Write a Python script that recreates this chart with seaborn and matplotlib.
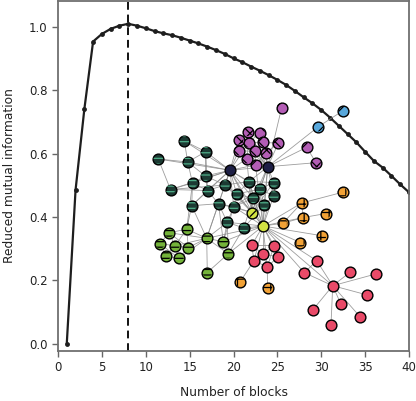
import matplotlib
matplotlib.use("Agg")
import matplotlib.pyplot as plt
import numpy as np
import pandas as pd
import seaborn as sns
from matplotlib.collections import LineCollection

sns.set_theme(style="white")
plt.rcParams["font.family"] = ["DejaVu Sans"]
plt.rcParams["hatch.linewidth"] = 0.9

# model selection curve
n_blocks = list(range(1, 41))
rmi = [0.0, 0.485, 0.74, 0.954, 0.978, 0.994, 1.004, 1.01, 1.004, 0.996,
       0.987, 0.980, 0.974, 0.966, 0.957, 0.948, 0.938, 0.927, 0.915, 0.901,
       0.889, 0.875, 0.862, 0.848, 0.833, 0.817, 0.798, 0.778, 0.759, 0.738,
       0.714, 0.688, 0.662, 0.636, 0.606, 0.577, 0.556, 0.530, 0.503, 0.478]
best_k = 8

# inset network layout (positions, layout units)
purple_xy = [(281.7, 107.5), (248.3, 131.5), (260.0, 132.5), (238.7, 140.0),
             (248.7, 142.7), (263.3, 142.3), (278.3, 143.3), (238.7, 150.8),
             (255.0, 151.3), (266.0, 152.7), (246.7, 158.7), (255.5, 165.0),
             (306.7, 147.3), (316.0, 162.7)]
navy_xy = [(230.0, 170.3), (267.7, 166.7)]
blue_xy = [(318.3, 126.7), (343.3, 110.5)]
teal_xy = [(184.3, 141.0), (205.7, 151.7), (158.3, 159.0), (187.7, 162.0),
           (205.5, 176.0), (192.5, 183.0), (170.5, 189.5), (207.5, 190.5),
           (225.0, 185.0), (249.2, 181.5), (273.7, 182.5), (236.7, 194.0),
           (260.0, 189.0), (191.7, 205.7), (218.5, 203.7), (233.7, 206.7),
           (253.3, 198.3), (273.7, 196.0), (264.2, 204.7), (227.3, 222.3),
           (243.7, 228.0)]
yellow_xy = [(252.0, 212.5), (263.0, 226.0)]
green_xy = [(186.7, 229.2), (169.0, 232.7), (160.0, 243.7), (175.0, 245.7),
            (188.3, 247.5), (165.7, 256.0), (179.0, 258.3), (206.7, 238.3),
            (223.3, 241.7), (228.3, 253.7), (207.3, 272.5)]
pink_xy = [(251.7, 245.3), (274.0, 245.7), (263.0, 254.0), (278.0, 256.7),
           (254.0, 260.7), (267.3, 267.0), (316.7, 260.7), (304.3, 272.7),
           (332.7, 285.7), (350.0, 272.3), (375.7, 274.0), (367.3, 295.0),
           (341.0, 304.3), (360.0, 316.7), (312.7, 310.0), (331.0, 325.0)]
orange_xy = [(342.5, 192.3), (301.7, 203.0), (303.3, 217.5), (326.0, 213.5),
             (282.7, 223.3), (321.7, 235.7), (300.3, 242.5), (267.5, 287.5),
             (240.0, 282.0)]

edges = [
    # pink block
    "K8-K6", "K8-K7", "K8-K9", "K8-K10", "K8-K11", "K8-K12", "K8-K13", "K8-K14",
    "K8-K15", "K8-Y1", "K6-Y1", "K7-Y1", "K6-K7",
    "K0-K1", "K0-K2", "K0-K4", "K1-K2", "K1-K3", "K2-K3", "K2-K4", "K2-K5",
    "K3-K5", "K4-K5", "K1-K5", "K0-Y1", "K1-Y1", "K2-Y1", "K3-Y1", "K4-Y1",
    "K5-Y1", "K4-O8", "K5-O7",
    # orange block
    "O0-O1", "O1-Y1", "O2-Y1", "O2-O3", "O4-Y1", "O4-O1", "O5-Y1", "O6-Y1",
    "O1-O2", "O4-O2",
    # yellow hubs
    "Y0-Y1", "Y0-N0", "Y0-N1", "Y1-N0", "Y1-N1", "Y0-T9", "Y0-T11", "Y0-T12",
    "Y0-T14", "Y0-T15", "Y0-T16", "Y0-T8", "Y1-T9", "Y1-T12", "Y1-T16",
    "Y1-T17", "Y1-T18", "Y1-T19", "Y1-T20", "Y1-T15", "Y1-T11", "Y1-L7",
    "Y1-L8", "Y1-L9", "Y1-T10", "Y0-T10", "Y1-P11", "Y0-P10",
    # navy hubs
    "N1-P0", "N1-P1", "N1-P2", "N1-P4", "N1-P5", "N1-P6", "N1-P8", "N1-P9",
    "N1-P10", "N1-P11", "N1-P12", "N1-P13", "N1-B0", "N1-N0", "N1-T9",
    "N1-T10", "N1-T12", "N1-T17", "N1-T16", "N1-T18", "N1-P3", "N1-P7",
    "N0-T0", "N0-T1", "N0-T2", "N0-T3", "N0-T4", "N0-T5", "N0-T7", "N0-T8",
    "N0-T9", "N0-T11", "N0-T12", "N0-T14", "N0-T15", "N0-T16", "N0-T6",
    "N0-P3", "N0-P7", "N0-P10", "N0-P4", "N0-P11", "N0-L7", "N0-T13",
    # purple block
    "P1-P2", "P1-P3", "P1-P4", "P2-P4", "P2-P5", "P3-P4", "P3-P7", "P4-P5",
    "P4-P7", "P4-P8", "P5-P6", "P5-P8", "P5-P9", "P6-P9", "P7-P8", "P7-P10",
    "P8-P9", "P8-P10", "P8-P11", "P9-P11", "P10-P11", "P1-P5", "P3-P8",
    "P4-P10", "P12-P13", "B0-B1",
    # teal block
    "T0-T1", "T0-T3", "T1-T3", "T1-T4", "T2-T3", "T3-T4", "T3-T5", "T4-T5",
    "T4-T7", "T5-T6", "T5-T7", "T6-T7", "T6-T8", "T7-T8", "T7-T13", "T7-T14",
    "T8-T11", "T8-T9", "T9-T11", "T9-T12", "T9-T10", "T10-T12", "T10-T17",
    "T11-T12", "T11-T15", "T11-T16", "T12-T16", "T12-T17", "T12-T18",
    "T13-T14", "T14-T15", "T15-T16", "T16-T18", "T17-T18", "T15-T19",
    "T14-T19", "T16-T20", "T19-T20", "T5-T13", "T2-T6", "T4-T8", "T1-T7",
    "T18-T20", "T12-T15", "T9-T16",
    # light green block
    "L0-L1", "L0-L3", "L0-L4", "L1-L2", "L1-L3", "L2-L3", "L2-L5", "L3-L4",
    "L3-L5", "L3-L6", "L4-L6", "L5-L6", "L1-L4", "L2-L6", "L0-L7", "L1-L7",
    "L3-L7", "L4-L7", "L6-L7", "L7-L8", "L7-L9", "L7-L10", "L8-L9", "L9-L10",
    "L7-T13", "L7-T14", "L0-T13", "L8-T19", "L9-T20", "L8-T14", "L0-T5",
    "L7-T19", "L8-T15", "L9-T19",
]

# block styles: key, positions, face colour, hatch, hatch colour
blocks = [
    ("P", purple_xy, "#b35db5", "xx", "black"),
    ("N", navy_xy, "#1d1f45", None, None),
    ("B", blue_xy, "#58a8dc", "//", "black"),
    ("T", teal_xy, "#1c3a33", "---", "#4fae88"),
    ("Y", yellow_xy, "#d2e243", "//", "black"),
    ("L", green_xy, "#74b33a", "---", "black"),
    ("K", pink_xy, "#e94a68", None, None),
    ("O", orange_xy, "#f2a236", "++", "black"),
]

pos = {}
for key, xy, *_ in blocks:
    for i, p in enumerate(xy):
        pos[f"{key}{i}"] = p

df = pd.DataFrame({"blocks": n_blocks, "rmi": rmi})

fig = plt.figure(figsize=(4.16, 4.01), dpi=100)
rect = [58 / 416, 1 - 351 / 401, 351 / 416, 350 / 401]
ax = fig.add_axes(rect)
sns.lineplot(data=df, x="blocks", y="rmi", marker="o", markersize=3.5,
             color="#1e1e1e", linewidth=1.6, markeredgewidth=0, ax=ax)
ax.axvline(best_k, color="#111111", linestyle=(0, (4, 2.5)), linewidth=1.4)
ax.set_xlim(0, 40)
ax.set_ylim(-0.023, 1.082)
ax.set_xticks(range(0, 41, 5))
ax.set_yticks(np.arange(0, 1.01, 0.2))
ax.set_yticklabels([f"{v:.1f}" for v in np.arange(0, 1.01, 0.2)])
ax.set_xlabel("Number of blocks", fontsize=8.8, labelpad=8, color="#222222")
ax.set_ylabel("Reduced mutual information", fontsize=8.8, labelpad=9,
              color="#222222")
ax.tick_params(axis="both", labelsize=8.5, length=4, width=1,
               color="#666666", labelcolor="#222222", left=True, bottom=True)
for s in ax.spines.values():
    s.set_color("#707070")
    s.set_linewidth(1.3)

# network inset
net = fig.add_axes(rect, zorder=3)
net.set_xlim(58, 409)
net.set_ylim(351, 1)
net.axis("off")
segs = []
for e in edges:
    a, b = e.split("-")
    segs.append([pos[a], pos[b]])
net.add_collection(LineCollection(segs, colors="#8c8c8c", linewidths=0.6,
                                  alpha=0.85, zorder=1))
for key, xy, face, hatch, hcol in blocks:
    xs = [p[0] for p in xy]
    ys = [p[1] for p in xy]
    net.scatter(xs, ys, s=60, c=face, edgecolors="black", linewidths=1.0,
                zorder=2)
    if hatch:
        net.scatter(xs, ys, s=46, facecolors="none", edgecolors=hcol,
                    linewidths=0, hatch=hatch, zorder=3)

fig.savefig("out.png", dpi=100)
